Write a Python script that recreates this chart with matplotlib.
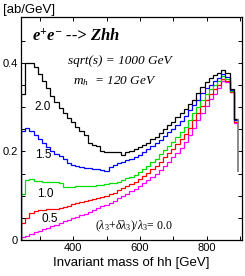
import numpy as np
import matplotlib
matplotlib.use("Agg")
import matplotlib.pyplot as plt
from matplotlib.ticker import FixedLocator, FixedFormatter

plt.rcParams['font.family'] = ['Liberation Sans', 'DejaVu Sans']
plt.rcParams['mathtext.fontset'] = 'custom'
plt.rcParams['mathtext.rm'] = 'Liberation Serif'
plt.rcParams['mathtext.it'] = 'Liberation Serif:italic'
plt.rcParams['mathtext.bf'] = 'Liberation Serif:bold:italic'

# histogram binning (GeV)
x_min, x_max = 243, 906
edges = np.linspace(243, 894, 53)

# (lambda3+dlambda3)/lambda3 = 2.0
y_20 = [0.330, 0.400, 0.400, 0.390, 0.374, 0.358, 0.343, 0.326, 0.311, 0.298,
        0.286, 0.276, 0.266, 0.256, 0.246, 0.237, 0.220, 0.214, 0.212, 0.202,
        0.199, 0.199, 0.199, 0.198, 0.191, 0.198, 0.200, 0.205, 0.209, 0.214,
        0.220, 0.227, 0.233, 0.241, 0.250, 0.260, 0.267, 0.277, 0.286, 0.295,
        0.307, 0.317, 0.331, 0.345, 0.356, 0.365, 0.372, 0.377, 0.384, 0.376,
        0.341, 0.274]
y_15 = [0.246, 0.253, 0.247, 0.238, 0.229, 0.220, 0.210, 0.201, 0.195, 0.189,
        0.182, 0.174, 0.170, 0.168, 0.165, 0.163, 0.162, 0.161, 0.160, 0.159,
        0.156, 0.164, 0.170, 0.174, 0.177, 0.180, 0.182, 0.187, 0.192, 0.198,
        0.205, 0.212, 0.219, 0.226, 0.234, 0.243, 0.251, 0.260, 0.269, 0.280,
        0.293, 0.304, 0.317, 0.331, 0.342, 0.350, 0.359, 0.366, 0.375, 0.368,
        0.338, 0.272]
y_10 = [0.105, 0.135, 0.137, 0.134, 0.133, 0.132, 0.132, 0.132, 0.131, 0.129,
        0.120, 0.119, 0.120, 0.121, 0.122, 0.122, 0.123, 0.123, 0.124, 0.125,
        0.126, 0.128, 0.129, 0.132, 0.136, 0.139, 0.143, 0.148, 0.154, 0.161,
        0.168, 0.176, 0.184, 0.194, 0.203, 0.212, 0.222, 0.232, 0.243, 0.256,
        0.270, 0.286, 0.301, 0.316, 0.330, 0.341, 0.351, 0.359, 0.370, 0.363,
        0.337, 0.270]
y_05 = [0.038, 0.051, 0.062, 0.066, 0.068, 0.069, 0.070, 0.070, 0.071, 0.073,
        0.074, 0.076, 0.081, 0.084, 0.086, 0.088, 0.090, 0.093, 0.095, 0.097,
        0.099, 0.103, 0.107, 0.112, 0.117, 0.122, 0.127, 0.132, 0.138, 0.145,
        0.152, 0.160, 0.168, 0.177, 0.187, 0.196, 0.206, 0.216, 0.227, 0.240,
        0.254, 0.270, 0.287, 0.302, 0.316, 0.329, 0.340, 0.350, 0.364, 0.358,
        0.335, 0.267]
y_00 = [0.006, 0.010, 0.014, 0.018, 0.021, 0.025, 0.028, 0.032, 0.035, 0.039,
        0.042, 0.046, 0.049, 0.053, 0.056, 0.060, 0.064, 0.068, 0.072, 0.076,
        0.080, 0.084, 0.089, 0.094, 0.099, 0.104, 0.110, 0.115, 0.121, 0.128,
        0.135, 0.142, 0.150, 0.159, 0.168, 0.177, 0.187, 0.197, 0.208, 0.221,
        0.236, 0.252, 0.270, 0.287, 0.302, 0.318, 0.330, 0.342, 0.360, 0.356,
        0.334, 0.265]
tail_end = 0.153

series = [(y_00, '#ff00ff'), (y_05, '#ff0000'), (y_10, '#00e000'),
          (y_15, '#0000ff'), (y_20, '#000000')]
curve_labels = ['2.0', '1.5', '1.0', '0.5']

fig = plt.figure(figsize=(2.45, 2.76), dpi=100)
ax = fig.add_axes([0.0857, 0.130, 0.902, 0.808])

for vals, col in series:
    ax.stairs(vals, edges, baseline=None, color=col, lw=0.9)
    ax.vlines(edges[0], 0, vals[0], color=col, lw=0.9)
ax.vlines(edges[-1], tail_end, y_20[-1], color='#777777', lw=1.2)

ax.set_xlim(x_min, x_max)
ax.set_ylim(0, 0.503)

ax.xaxis.set_major_locator(FixedLocator([300, 400, 500, 600, 700, 800, 900]))
ax.xaxis.set_major_formatter(FixedFormatter(['', '400', '', '600', '', '800', '']))
yt = [0, 0.05, 0.1, 0.15, 0.2, 0.25, 0.3, 0.35, 0.4, 0.45]
ax.yaxis.set_major_locator(FixedLocator(yt))
ax.yaxis.set_major_formatter(FixedFormatter(['0', '', '', '', '0.2', '', '', '', '0.4', '']))
ax.tick_params(direction='in', length=3, width=0.7, top=True, right=True,
               labelsize=8, pad=2, colors='black')
for s in ax.spines.values():
    s.set_linewidth(0.9)

ax.set_xlabel('Invariant mass of hh [GeV]', fontsize=9.5, labelpad=3)
fig.text(3/245, 1 - 10/276, '[ab/GeV]', fontsize=9.5, va='center', ha='left')

ax.text(0.05, 0.892, r'$\mathbf{e^{+}e^{-}}$ --> Zhh', transform=ax.transAxes,
        fontsize=12, family='Liberation Serif', style='italic', weight='bold',
        va='baseline', ha='left')
ax.text(0.213, 0.789, 'sqrt(s) = 1000 GeV', transform=ax.transAxes,
        fontsize=9.5, family='Liberation Serif', style='italic',
        va='baseline', ha='left')
ax.text(0.235, 0.70, r'$m_h$  = 120 GeV', transform=ax.transAxes,
        fontsize=9.5, family='Liberation Serif', style='italic',
        va='baseline', ha='left')
ax.text(0.335, 0.063, r'$(\lambda_3$+$\delta\lambda_3)/\lambda_3$= 0.0',
        transform=ax.transAxes, fontsize=8.5, family='Liberation Serif',
        va='center', ha='left')

lab_pos = [(0.063, 0.599), (0.063, 0.381), (0.072, 0.209), (0.095, 0.096)]
for lab, (px, py) in zip(curve_labels, lab_pos):
    ax.text(px, py, lab, transform=ax.transAxes, fontsize=8.5,
            va='center', ha='left')

fig.savefig('out.png', dpi=100)
